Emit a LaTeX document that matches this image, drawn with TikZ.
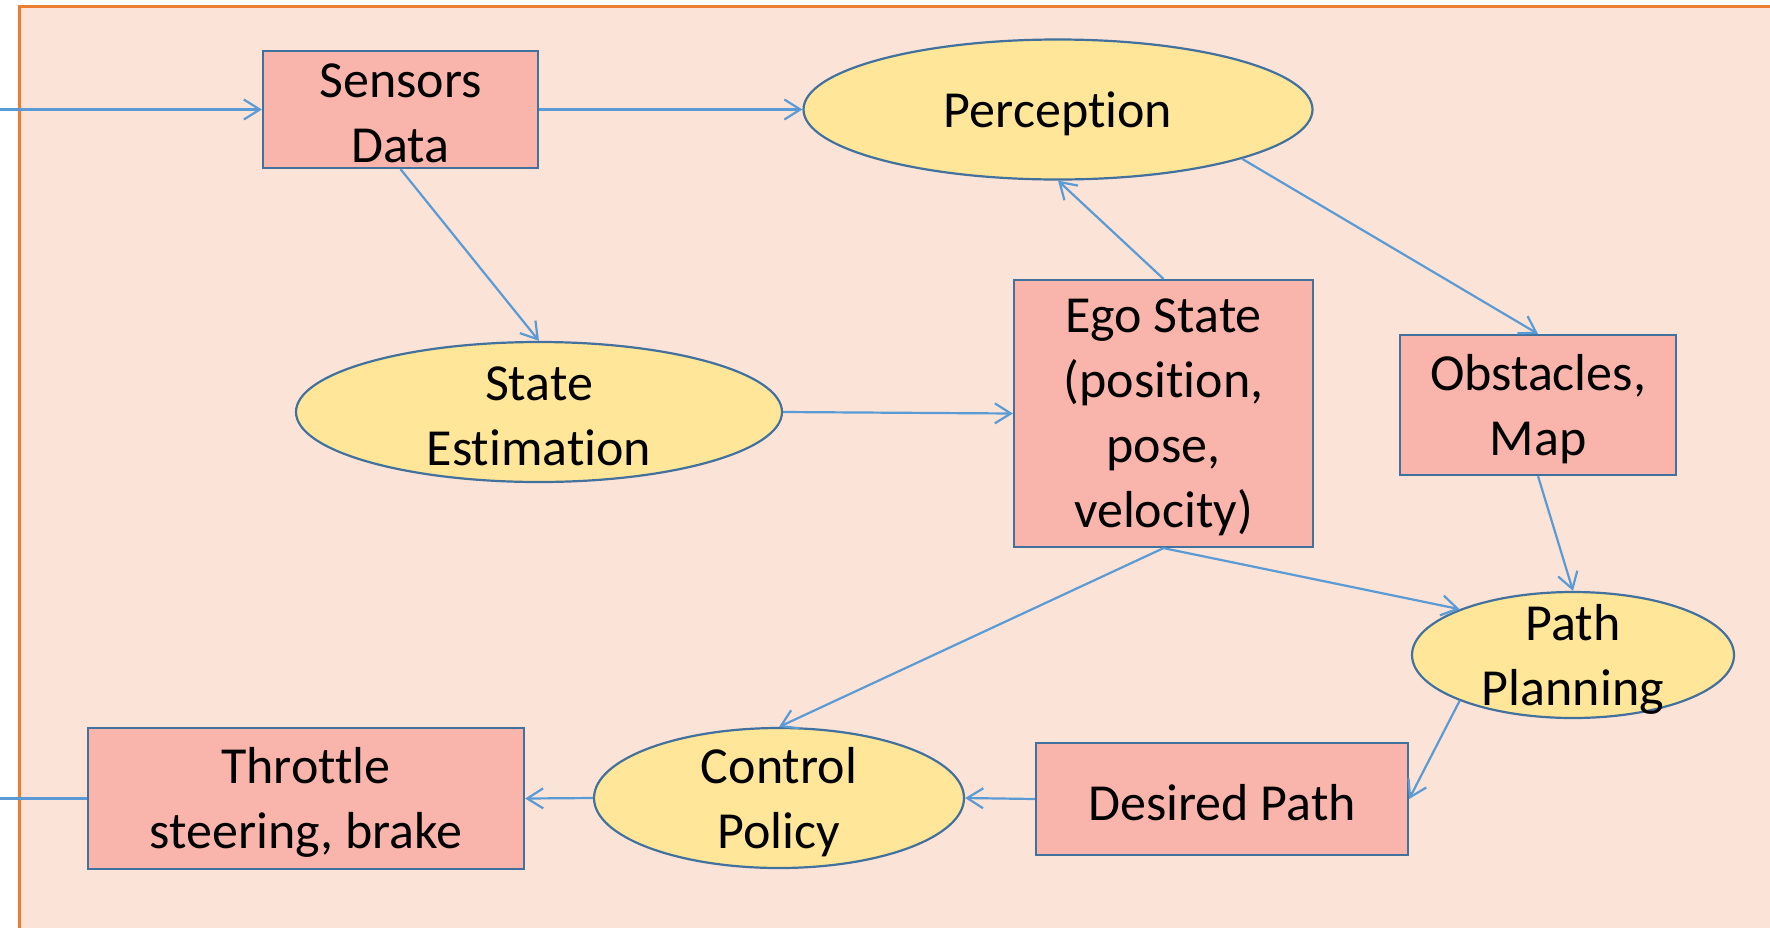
\documentclass[tikz,border=0pt]{standalone}
\usepackage{fontspec}
\setmainfont[Ligatures={NoCommon}]{Carlito}
\usetikzlibrary{arrows.meta,shapes.geometric}
\definecolor{bgc}{HTML}{FBE3D8}
\definecolor{orng}{HTML}{ED7D31}
\definecolor{boxf}{HTML}{F9B5AB}
\definecolor{ellf}{HTML}{FFE699}
\definecolor{nodeb}{HTML}{41719C}
\definecolor{arr}{HTML}{5B9BD5}
\begin{document}
\begin{tikzpicture}[x=0.5pt,y=-0.5pt,
 box/.style={draw=nodeb, line width=1.1pt, fill=boxf, rectangle, inner sep=0pt},
 ell/.style={draw=nodeb, line width=1.1pt, fill=ellf, ellipse, inner sep=0pt},
 txt/.style={align=center, font=\fontsize{26}{32.5}\selectfont, inner sep=0pt, text=black, yshift=-2pt},
 conn/.style={draw=arr, line width=1.1pt, -{Straight Barb[length=8pt,width=10pt,line width=1.1pt]}},
 plain/.style={draw=arr, line width=1.1pt},
]
\useasboundingbox (0,0) rectangle (1770,927);
\path[fill=bgc, draw=orng, line width=1.5pt] (19,6) rectangle (1800,960);

\node[box, minimum width=137.5pt, minimum height=58.5pt, label={[txt]center:Sensors\\Data}] (sen) at (400.5,109.5) {};
\node[ell, minimum width=254.5pt, minimum height=70pt, label={[txt]center:Perception}] (per) at (1058,109.5) {};
\node[ell, minimum width=243pt, minimum height=70pt, label={[txt]center:State\\Estimation}] (se) at (539,412) {};
\node[box, minimum width=149.5pt, minimum height=133.5pt, label={[txt]center:Ego State\\(position,\\pose,\\velocity)}] (ego) at (1163.5,413.5) {};
\node[box, minimum width=138pt, minimum height=70pt, label={[txt]center:Obstacles,\\Map}] (obs) at (1538,405) {};
\node[ell, minimum width=161pt, minimum height=63pt, label={[txt]center:Path\\Planning}] (pp) at (1573,655) {};
\node[box, minimum width=186pt, minimum height=56pt, label={[txt]center:Desired Path}] (dp) at (1222,799) {};
\node[ell, minimum width=185pt, minimum height=70pt, label={[txt]center:Control\\Policy}] (cp) at (779,798) {};
\node[box, minimum width=218pt, minimum height=70.5pt, label={[txt]center:Throttle\\steering, brake}] (thr) at (306,798.5) {};

\coordinate (inp) at (0,109.5);
\coordinate (outp) at (0,798.5);

\draw[conn] (inp) -- (sen.west);
\draw[conn] (sen.east) -- (per.west);
\draw[conn] (sen.south) -- (se.north);
\draw[conn] (se.east) -- (ego.west);
\draw[conn] (ego.north) -- (per.south);
\draw[conn] (per.-15.4) -- (obs.north);
\draw[conn] (obs.south) -- (pp.north);
\draw[conn] (ego.south) -- (pp.158);
\draw[conn] (ego.south) -- (cp.north);
\draw[conn] (pp.202) -- (dp.east);
\draw[conn] (dp.west) -- (cp.east);
\draw[conn] (cp.west) -- (thr.east);
\draw[plain] (thr.west) -- (outp);
\end{tikzpicture}
\end{document}
